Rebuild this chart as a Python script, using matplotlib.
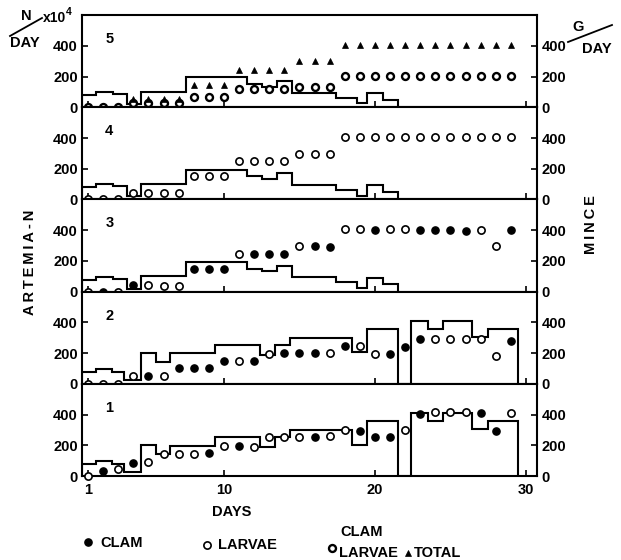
import numpy as np
import matplotlib
matplotlib.use("Agg")
import matplotlib.pyplot as plt
from matplotlib.lines import Line2D

plt.rcParams["font.family"] = ["Liberation Sans", "DejaVu Sans"]
plt.rcParams["font.weight"] = "bold"

W, H = 621, 560
DAYS = np.arange(1, 30)

# Artemia-N supply steps (panels 3-5 share one, panels 1-2 another)
STEP_EDGES_A = [0.6, 1.5, 2.65, 3.6, 4.5, 7.5, 11.5, 12.5, 13.5, 14.5, 17.4, 18.8, 19.5, 20.5, 21.5]
STEP_VALS_A = [78, 98, 85, 20, 100, 195, 150, 132, 170, 95, 60, 25, 92, 48]
STEP_EDGES_B = [0.6, 1.5, 2.6, 3.4, 4.5, 5.5, 6.4, 9.4, 12.4, 13.4, 14.4, 18.5, 19.5,
                21.5, 22.4, 23.5, 24.5, 26.4, 27.5, 29.5]
STEP_VALS_B = [78, 95, 80, 26, 200, 145, 198, 253, 187, 255, 300, 205, 360, 0, 412, 360, 410, 305, 355]

# mince fed per day (g/day); kinds: C = clam, L = larvae, M = clam + larvae, T = total
P5_MIX = [0, 0, 0, 27, 27, 27, 27, 65, 65, 65, 120, 120, 120, 120, 135, 135, 135,
          205, 205, 205, 205, 205, 205, 205, 205, 205, 205, 205, 205]
P5_TOTAL = [np.nan, np.nan, np.nan, 55, 55, 55, 55, 142, 142, 142, 245, 245, 245, 245, 300, 300, 300,
            405, 405, 405, 405, 405, 405, 405, 405, 405, 405, 405, 405]
P4_LARVAE = [0, 0, 0, 45, 45, 45, 45, 150, 150, 150, 252, 252, 252, 252, 295, 295, 295,
             405, 405, 405, 405, 405, 405, 405, 405, 405, 405, 405, 405]
P3_VALS = [0, 0, 0, 42, 42, 38, 38, 145, 145, 145, 242, 242, 242, 242, 295, 295, 292,
           405, 405, 402, 405, 405, 402, 402, 400, 398, 402, 300, 402]
P3_KIND = "LCL" "CLLL" "CCC" "LCCC" "LCC" "LLCLLCCCCLLC"
P2_VALS = [0, 0, 0, 48, 48, 48, 100, 100, 100, 148, 148, 148, 197, 203, 203, 203,
           200, 243, 243, 192, 192, 238, 292, 292, 292, 292, 290, 183, 280]
P2_KIND = "LLL" "LCLCCCCLCLCCC" "LCLLCCCLLLLLC"
P1_VALS = [0, 35, 45, 87, 93, 140, 145, 143, 147, 195, 195, 190, 253, 253, 253, 256,
           260, 300, 293, 256, 256, 297, 403, 416, 416, 414, 410, 295, 408]
P1_KIND = "LCLCLLLLCLCLLLLC" "LLCCCLCLLLCCL"

STYLES = {
    "C": dict(marker="o", ms=5.2, mfc="black", mec="black", mew=1.0),
    "L": dict(marker="o", ms=5.2, mfc="white", mec="black", mew=1.2),
    "M": dict(marker="o", ms=5.0, mfc="white", mec="black", mew=1.7),
    "T": dict(marker="^", ms=5.0, mfc="black", mec="black", mew=0.5),
}


def draw_points(ax, vals, kinds):
    vals = np.array(vals, dtype=float)
    kinds = np.array(list(kinds))
    for k, style in STYLES.items():
        m = kinds == k
        if m.any():
            ax.plot(DAYS[m], vals[m], linestyle="none", clip_on=False, zorder=4, **style)


def fx(px):
    return px / W


def fy(py):
    return 1 - py / H


fig, axes = plt.subplots(5, 1, figsize=(W / 100, H / 100), dpi=100, sharex=True,
                         gridspec_kw=dict(hspace=0))
fig.subplots_adjust(left=0.132, right=0.865, top=0.973, bottom=0.15)

panels = [
    ("5", STEP_EDGES_A, STEP_VALS_A, [(P5_MIX, "M" * 29), (P5_TOTAL, "T" * 29)]),
    ("4", STEP_EDGES_A, STEP_VALS_A, [(P4_LARVAE, "L" * 29)]),
    ("3", STEP_EDGES_A, STEP_VALS_A, [(P3_VALS, P3_KIND)]),
    ("2", STEP_EDGES_B, STEP_VALS_B, [(P2_VALS, P2_KIND)]),
    ("1", STEP_EDGES_B, STEP_VALS_B, [(P1_VALS, P1_KIND)]),
]

for ax, (num, edges, vals, series) in zip(axes, panels):
    ax.stairs(vals, edges, baseline=0, color="black", lw=1.5, zorder=2)
    for v, k in series:
        draw_points(ax, v, k)
    ax.set_xlim(0.6, 30.74)
    ax.set_ylim(0, 600)
    ax.set_yticks([0, 200, 400])
    ax.set_xticks([1, 10, 20, 30])
    ax.tick_params(axis="y", direction="in", length=4, width=1.2, right=True,
                   labelright=True, labelsize=10.5, pad=3)
    ax.tick_params(axis="x", direction="in", length=4, width=1.2, labelsize=10.5, pad=5)
    for s in ax.spines.values():
        s.set_linewidth(1.5)
    ax.text(0.06, 0.74, num, transform=ax.transAxes, fontsize=10.5, fontweight="bold",
            ha="center", va="center")

# axis titles and unit labels
fig.text(fx(232), fy(512), "DAYS", fontsize=10.5, ha="center", va="center")
fig.text(fx(30), fy(262), "A\u2009R\u2009T\u2009E\u2009M\u2009I\u2009A\u2009-\u2009N", rotation=90,
         fontsize=10.5, ha="center", va="center")
fig.text(fx(591), fy(225), "M\u2009I\u2009N\u2009C\u2009E", rotation=90, fontsize=10.5,
         ha="center", va="center")

fig.text(fx(26), fy(16), "N", fontsize=10.5, ha="center", va="center")
fig.text(fx(43), fy(18), "x10", fontsize=10, ha="left", va="center")
fig.text(fx(66), fy(12), "4", fontsize=7.5, ha="left", va="center")
fig.text(fx(25), fy(43), "DAY", fontsize=10.5, ha="center", va="center")
fig.add_artist(Line2D([fx(10), fx(42)], [fy(36), fy(18)], color="black", lw=1.3))

fig.text(fx(578), fy(27), "G", fontsize=10.5, ha="center", va="center")
fig.text(fx(597), fy(49), "DAY", fontsize=10.5, ha="center", va="center")
fig.add_artist(Line2D([fx(568), fx(612)], [fy(42), fy(25)], color="black", lw=1.3))


# legend row
def legend_marker(px, py, kind):
    st = STYLES[kind]
    fig.add_artist(Line2D([fx(px)], [fy(py)], linestyle="none", **st))


legend_marker(88, 542, "C")
fig.text(fx(100), fy(543), "CLAM", fontsize=10.5, ha="left", va="center")
legend_marker(207, 545, "L")
fig.text(fx(218), fy(545), "LARVAE", fontsize=10.5, ha="left", va="center")
fig.text(fx(340), fy(532), "CLAM", fontsize=10.5, ha="left", va="center")
legend_marker(332, 548, "M")
fig.text(fx(339), fy(553), "LARVAE", fontsize=10.5, ha="left", va="center")
legend_marker(408, 553, "T")
fig.text(fx(414), fy(553), "TOTAL", fontsize=10.5, ha="left", va="center")

fig.savefig("out.png", dpi=100)
